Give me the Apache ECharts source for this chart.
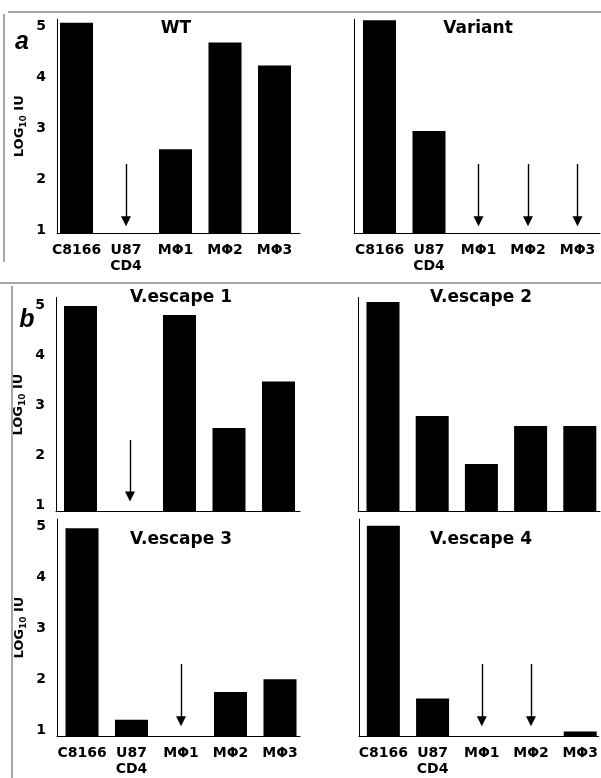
<!DOCTYPE html>
<html><head><meta charset="utf-8">
<script src="https://cdn.jsdelivr.net/npm/echarts@6/dist/echarts.min.js"></script>
<style>html,body{margin:0;padding:0;background:#fff}#c{width:601px;height:778px}</style>
</head><body><div id="c"></div>
<script>
// ---- data ----
const categories = ['C8166', 'U87\nCD4', 'MΦ1', 'MΦ2', 'MΦ3'];
const yTicks = [1, 2, 3, 4, 5];
const panelTitles = ['WT', 'Variant', 'V.escape 1', 'V.escape 2', 'V.escape 3', 'V.escape 4'];
// log10 IU; null = not detected (drawn as a downward arrow)
const wt      = [5.08, null, 2.59, 4.69, 4.24];
const variant = [5.13, 2.95, null, null, null];
const escape1 = [4.98, null, 4.80, 2.54, 3.47];
const escape2 = [5.06, 2.78, 1.82, 2.58, 2.58];
const escape3 = [4.97, 1.20, null, 1.75, 2.00];
const escape4 = [5.02, 1.62, null, null, 0.97];
const arrowFrom = 2.3;   // arrow tail (log10 IU)
const arrowTo = 1.17;    // arrow head centre (log10 IU)

const panelData = [wt, variant, escape1, escape2, escape3, escape4];

// ---- layout (pixels) ----
const FONT = '"DejaVu Sans", sans-serif';
const yMax = 5.15;
const layouts = [
  { axisX: 57,  c0: 76.5,  s: 49.5, right: 300, label1: 230, unit: 50.8, yMin: 0.935, left: true,  xl: true },
  { axisX: 354, c0: 379.5, s: 49.5, right: 600, label1: 230, unit: 50.8, yMin: 0.935, left: false, xl: true },
  { axisX: 56,  c0: 80.5,  s: 49.5, right: 300, label1: 505, unit: 50.0, yMin: 0.866, left: true,  xl: false },
  { axisX: 358, c0: 383,   s: 49.2, right: 600, label1: 505, unit: 50.0, yMin: 0.866, left: false, xl: false },
  { axisX: 57,  c0: 82,    s: 49.5, right: 300, label1: 730, unit: 50.8, yMin: 0.882, left: true,  xl: true },
  { axisX: 359, c0: 383.5, s: 49.5, right: 600, label1: 730, unit: 50.8, yMin: 0.882, left: false, xl: true }
];
const titlePos = [[176, 29], [478, 29], [181, 298], [481, 298], [181, 540], [481, 540]];

const grids = [], xAxes = [], yAxes = [], series = [];
layouts.forEach((L, k) => {
  const top = L.label1 - (yMax - 1) * L.unit;
  const bottom = L.label1 + (1 - L.yMin) * L.unit;
  grids.push({ left: L.axisX, top: top, width: L.right - L.axisX, height: bottom - top });
  xAxes.push({
    type: 'value', gridIndex: k,
    min: (L.axisX - L.c0) / L.s, max: (L.right - L.c0) / L.s,
    axisLine: { show: true, onZero: false, lineStyle: { color: '#000', width: 1 } },
    axisTick: { show: false }, splitLine: { show: false },
    axisLabel: {
      show: L.xl,
      customValues: [0, 1, 2, 3, 4],
      formatter: v => categories[Math.round(v)],
      color: '#000', fontFamily: FONT, fontWeight: 'bold', fontSize: 14,
      lineHeight: 16, margin: 9
    }
  });
  yAxes.push({
    type: 'value', gridIndex: k, min: L.yMin, max: yMax,
    axisLine: { show: true, onZero: false, lineStyle: { color: '#000', width: 1 } },
    axisTick: { show: false }, splitLine: { show: false },
    axisLabel: {
      show: L.left, customValues: yTicks, formatter: v => String(v),
      color: '#000', fontFamily: FONT, fontWeight: 'bold', fontSize: 14, margin: 11
    },
    name: L.left ? 'LOG{s|10} IU' : '',
    nameLocation: 'middle', nameRotate: 90, nameGap: 29,
    nameTextStyle: {
      color: '#000', fontFamily: FONT, fontWeight: 'bold', fontSize: 13, lineHeight: 16,
      rich: { s: { fontFamily: FONT, fontWeight: 'bold', fontSize: 9, lineHeight: 16, verticalAlign: 'bottom', color: '#000' } }
    }
  });
  const vals = panelData[k];
  const bars = [], arrows = [];
  vals.forEach((v, i) => {
    if (v === null) arrows.push([{ coord: [i, arrowFrom] }, { coord: [i, arrowTo] }]);
    else bars.push([i, v]);
  });
  series.push({
    type: 'bar', xAxisIndex: k, yAxisIndex: k, data: bars, barWidth: 33,
    itemStyle: { color: '#000' }, clip: true,
    markLine: {
      silent: true, symbol: ['none', 'triangle'], symbolSize: 10,
      label: { show: false },
      lineStyle: { color: '#000', width: 1.4, type: 'solid' },
      emphasis: { disabled: true },
      data: arrows
    }
  });
});

const graphics = [];
panelTitles.forEach((t, k) => {
  graphics.push({ type: 'text', x: titlePos[k][0], y: titlePos[k][1],
    style: { text: t, fill: '#000', fontFamily: FONT, fontWeight: 'bold', fontSize: 17, align: 'center', verticalAlign: 'middle' } });
});
graphics.push({ type: 'text', x: 22, y: 42, style: { text: 'a', fill: '#000', fontFamily: '"Liberation Sans", Arial, sans-serif', fontWeight: 'bold', fontStyle: 'italic', fontSize: 25, align: 'center', verticalAlign: 'middle' } });
graphics.push({ type: 'text', x: 27, y: 320, style: { text: 'b', fill: '#000', fontFamily: '"Liberation Sans", Arial, sans-serif', fontWeight: 'bold', fontStyle: 'italic', fontSize: 25, align: 'center', verticalAlign: 'middle' } });
// figure frame lines
const frame = [[8, 12, 601, 12], [4, 14, 4, 262], [0, 283, 601, 283], [12, 286, 12, 778]];
frame.forEach(f => graphics.push({ type: 'line', shape: { x1: f[0], y1: f[1], x2: f[2], y2: f[3] }, style: { stroke: '#8a8a8a', lineWidth: 1.5 }, silent: true }));

const chart = echarts.init(document.getElementById('c'), null, { renderer: 'canvas' });
chart.setOption({
  animation: false,
  backgroundColor: '#fff',
  grid: grids, xAxis: xAxes, yAxis: yAxes, series: series,
  graphic: graphics
});
</script></body></html>
